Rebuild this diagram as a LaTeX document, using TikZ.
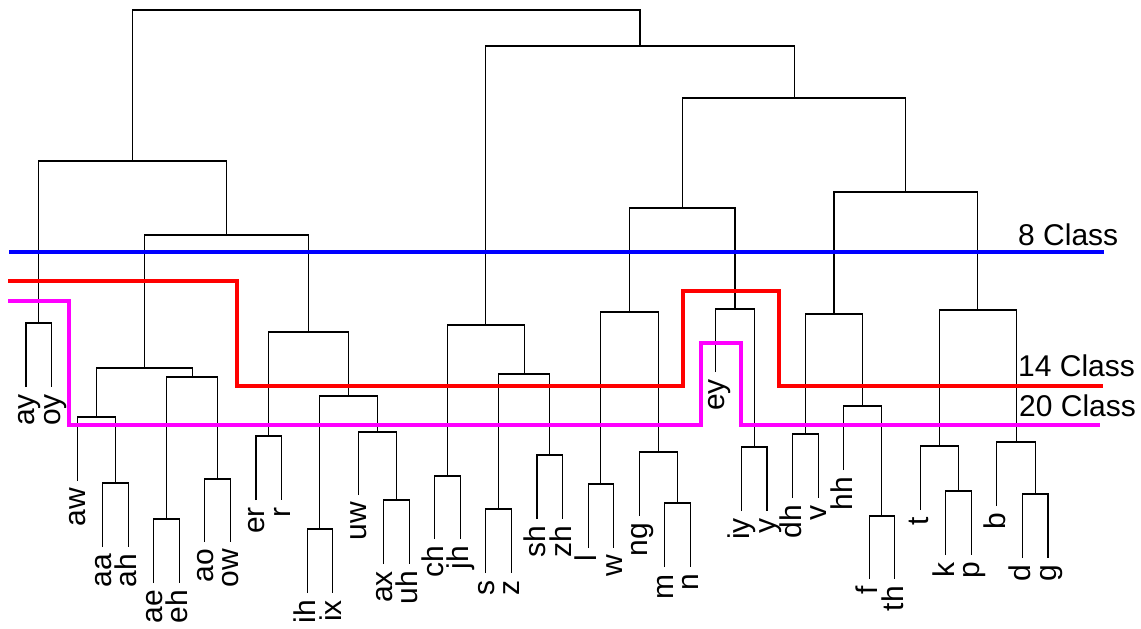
\documentclass[tikz,border=0pt]{standalone}
\usepackage{fontspec}
\setmainfont{Liberation Sans}
\definecolor{cutmag}{RGB}{255,0,255}
\definecolor{cutred}{RGB}{255,0,0}
\definecolor{cutblue}{RGB}{0,0,255}
\begin{document}
\begin{tikzpicture}[x=1pt,y=-1pt,
  tree/.style={line width=1.1pt, black},
  leaflbl/.style={rotate=90, anchor=base east, inner sep=0pt, font=\fontsize{30}{36}\selectfont},
  cls/.style={anchor=base west, inner sep=0pt, font=\fontsize{30}{36}\selectfont},
  cut/.style={line width=3.3pt}]
\useasboundingbox (0,0) rectangle (1141,629);
\begin{scope}[x=25.55pt, xshift=26pt]
% leaves
\foreach \n/\i/\yb in {ay/0/387, oy/1/387, aw/2/481, aa/3/547, ah/4/547,
  ae/5/583, eh/6/583, ao/7/542, ow/8/542, er/9/500, r/10/500, ih/11/593,
  ix/12/593, uw/13/495, ax/14/564, uh/15/564, ch/16/539, jh/17/539,
  s/18/573, z/19/573, sh/20/519, zh/21/519, l/22/548, w/23/548, ng/24/516,
  m/25/567, n/26/567, ey/27/372, iy/28/511, y/29/511, dh/30/498, v/31/498,
  hh/32/470, f/33/579, th/34/579, t/35/510, k/36/555, p/37/555, b/38/506,
  d/39/558, g/40/558}{
  \coordinate (\n) at (\i,\yb);
  \node[leaflbl] (l-\n) at ({\i+0.333},{\yb+7}) {\n};
}
% merge points
\foreach \n/\i/\ym in {ayoy/0.5/323, aaah/3.5/483, awaa/2.75/417,
  aeeh/5.5/519, aoow/7.5/479, aeao/6.5/377, vA/4.625/368,
  err/9.5/436, ihix/11.5/529, axuh/14.5/500, uwax/13.75/432,
  ihuw/12.625/396, vB/11.0625/332, vow/7.84375/235, left/4.171875/161,
  chjh/16.5/476, sz/18.5/509, shzh/20.5/455, szsh/19.5/374, sib/18/325,
  lw/22.5/484, mn/25.5/503, ngmn/24.75/452, nas/23.625/312,
  iyy/28.5/447, eyiy/27.75/309, nasey/25.6875/208,
  dhv/30.5/434, fth/33.5/516, hhf/32.75/406, dhvhh/31.625/314,
  kp/36.5/491, tkp/35.75/446, dg/39.5/494, bdg/38.75/442, stops/37.25/310,
  fricst/34.4375/192, rtwo/30.0625/98, rone/24.03125/46, root/14.1015625/10}{
  \coordinate (\n) at (\i,\ym);
}
\end{scope}
% brackets
\draw[tree] (ay) |- (ayoy) -| (oy);
\draw[tree] (aa) |- (aaah) -| (ah);
\draw[tree] (aw) |- (awaa) -| (aaah);
\draw[tree] (ae) |- (aeeh) -| (eh);
\draw[tree] (ao) |- (aoow) -| (ow);
\draw[tree] (aeeh) |- (aeao) -| (aoow);
\draw[tree] (awaa) |- (vA) -| (aeao);
\draw[tree] (er) |- (err) -| (r);
\draw[tree] (ih) |- (ihix) -| (ix);
\draw[tree] (ax) |- (axuh) -| (uh);
\draw[tree] (uw) |- (uwax) -| (axuh);
\draw[tree] (ihix) |- (ihuw) -| (uwax);
\draw[tree] (err) |- (vB) -| (ihuw);
\draw[tree] (vA) |- (vow) -| (vB);
\draw[tree] (ayoy) |- (left) -| (vow);
\draw[tree] (ch) |- (chjh) -| (jh);
\draw[tree] (s) |- (sz) -| (z);
\draw[tree] (sh) |- (shzh) -| (zh);
\draw[tree] (sz) |- (szsh) -| (shzh);
\draw[tree] (chjh) |- (sib) -| (szsh);
\draw[tree] (l) |- (lw) -| (w);
\draw[tree] (m) |- (mn) -| (n);
\draw[tree] (ng) |- (ngmn) -| (mn);
\draw[tree] (lw) |- (nas) -| (ngmn);
\draw[tree] (iy) |- (iyy) -| (y);
\draw[tree] (ey) |- (eyiy) -| (iyy);
\draw[tree] (nas) |- (nasey) -| (eyiy);
\draw[tree] (dh) |- (dhv) -| (v);
\draw[tree] (f) |- (fth) -| (th);
\draw[tree] (hh) |- (hhf) -| (fth);
\draw[tree] (dhv) |- (dhvhh) -| (hhf);
\draw[tree] (k) |- (kp) -| (p);
\draw[tree] (t) |- (tkp) -| (kp);
\draw[tree] (d) |- (dg) -| (g);
\draw[tree] (b) |- (bdg) -| (dg);
\draw[tree] (tkp) |- (stops) -| (bdg);
\draw[tree] (dhvhh) |- (fricst) -| (stops);
\draw[tree] (nasey) |- (rtwo) -| (fricst);
\draw[tree] (sib) |- (rone) -| (rtwo);
\draw[tree] (left) |- (root) -| (rone);
% class cut lines
\draw[cut, cutblue] (9,252) -- (1104,252);
\draw[cut, cutred] (8,281) -- (237,281) -- (237,386) -- (683,386) -- (683,291)
  -- (779,291) -- (779,386) -- (1103,386);
\draw[cut, cutmag] (8,301) -- (69,301) -- (69,425) -- (701,425) -- (701,343)
  -- (741,343) -- (741,425) -- (1100,425);
\node[cls] (c8) at (1018,245) {8 Class};
\node[cls] (c14) at (1018,376) {14 Class};
\node[cls] (c20) at (1019,416) {20 Class};
\end{tikzpicture}
\end{document}
